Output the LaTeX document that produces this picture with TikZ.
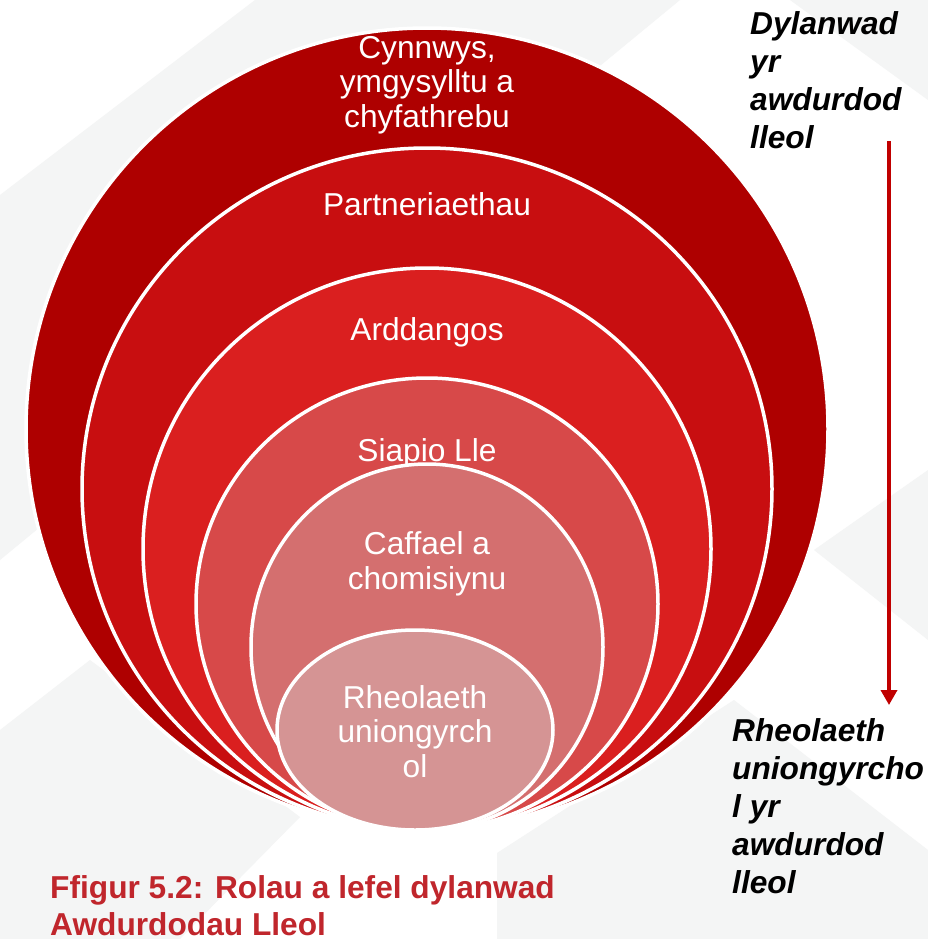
\documentclass[tikz,border=0pt]{standalone}
\usepackage{fontspec}
\setmainfont{Liberation Sans}
\usetikzlibrary{arrows.meta,positioning}
\definecolor{ringA}{RGB}{174,0,0}
\definecolor{ringB}{RGB}{200,14,16}
\definecolor{ringC}{RGB}{218,31,31}
\definecolor{ringD}{RGB}{215,73,73}
\definecolor{ringE}{RGB}{212,111,111}
\definecolor{ringF}{RGB}{213,148,148}
\definecolor{bggrey}{RGB}{244,245,245}
\definecolor{capred}{RGB}{192,38,44}
\definecolor{arrred}{RGB}{192,0,0}

\begin{document}
\begin{tikzpicture}[x=1bp,y=-1bp,
  ring/.style={draw=white,line width=3.5bp},
  ringlbl/.style={text=white,align=center,anchor=base,inner sep=0pt,
    font=\fontsize{31.8}{34.5}\selectfont},
  note/.style={align=left,anchor=base west,inner sep=0pt,
    font=\fontsize{31.8}{38}\selectfont\bfseries\itshape}]
\useasboundingbox (0,0) rectangle (928,939);
\fill[white] (0,0) rectangle (928,939);
% faint backdrop
\fill[bggrey] (0,195) -- (255,0) -- (680,0) -- (0,560) -- cycle;
\fill[bggrey] (790,0) -- (928,0) -- (928,100) -- cycle;
\fill[bggrey] (0,730) -- (90,660) -- (300,817) -- (180,939) -- (0,939) -- cycle;
\fill[bggrey] (814,550) -- (928,470) -- (928,640) -- cycle;
\fill[bggrey] (497,939) -- (497,853) -- (734,700) -- (928,850) -- (928,939) -- cycle;

% nested rings, outermost first (label y = baseline of last line)
\foreach \cx/\cy/\rx/\ry/\col/\ly/\txt [count=\i] in {
  427/429/401/401/ringA/127/{Cynnwys,\\ymgysylltu a\\chyfathrebu},
  427/489/345/341/ringB/215/{Partneriaethau},
  427/549/284/281/ringC/340/{Arddangos},
  427/604/231/226/ringD/461/{Siapio Lle},
  427/647/176/183/ringE/589/{Caffael a\\chomisiynu},
  415/730/138/100/ringF/777/{Rheolaeth\\uniongyrch\\ol}}{
  \draw[ring,fill=\col] (\cx,\cy) ellipse [x radius=\rx, y radius=\ry];
  \node[ringlbl] (lbl\i) at (\cx,\ly) {\txt};
}

\node[note] (influence) at (750,148) {Dylanwad\\yr\\awdurdod\\lleol};
\node[note] (direct) at (732,893) {Rheolaeth\\uniongyrcho\\l yr\\awdurdod\\lleol};
\coordinate (arrtop) at (889,141);
\coordinate (arrbot) at (889,705);
\draw[arrred,line width=3.5bp,-{Triangle[width=16bp,length=15bp]}] (arrtop) -- (arrbot);

\node[anchor=base west,align=left,inner sep=0pt,text=capred,
  font=\fontsize{31.8}{37}\selectfont\bfseries] (caption) at (50,935)
  {Ffigur 5.2: Rolau a lefel dylanwad\\Awdurdodau Lleol};
\end{tikzpicture}
\end{document}
